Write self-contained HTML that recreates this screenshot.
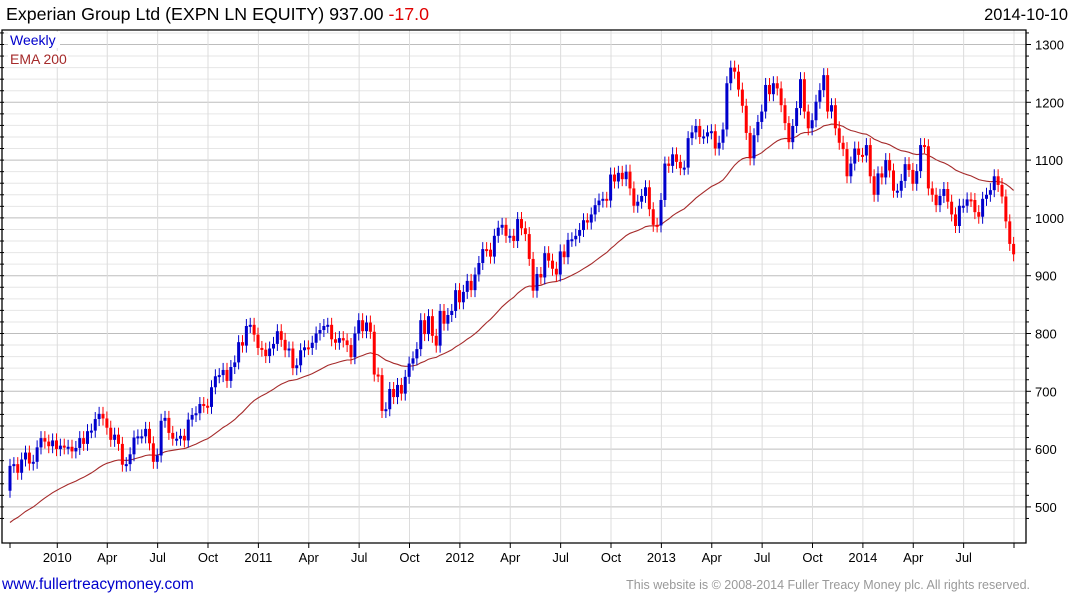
<!DOCTYPE html>
<html><head><meta charset="utf-8"><style>
html,body{margin:0;padding:0;background:#fff;width:1075px;height:600px;overflow:hidden;font-family:"Liberation Sans",Arial,sans-serif}
svg{display:block}
</style></head><body>
<svg id="chart" width="1075" height="600" xmlns="http://www.w3.org/2000/svg">
<text x="6" y="20" font-size="17.8" fill="#000">Experian Group Ltd (EXPN LN EQUITY) 937.00 <tspan fill="#e00000">-17.0</tspan></text>
<text x="1068" y="20" font-size="16.4" text-anchor="end" fill="#000">2014-10-10</text>
<g id="grid"></g>
<g id="axes"></g>
<g id="ema"></g>
<g id="candles"></g>
<rect x="8" y="32" width="52" height="16" fill="#fff"/>
<text x="10" y="45" font-size="14" fill="#0000cc">Weekly</text>
<rect x="8" y="51" width="60" height="16" fill="#fff"/>
<text x="10" y="64" font-size="14" fill="#a52a2a">EMA 200</text>
<text x="2" y="589" font-size="15.5" fill="#0000cc">www.fullertreacymoney.com</text>
<text x="1030" y="589" font-size="12.5" fill="#999" text-anchor="end">This website is © 2008-2014 Fuller Treacy Money plc. All rights reserved.</text>
</svg>
<script>
const closes = [571,574,559,582,594,575,578,603,619,613,605,615,600,606,603,604,596,602,619,609,631,632,652,661,653,637,616,625,609,573,574,591,620,622,622,635,610,578,589,649,654,628,618,618,623,615,651,659,662,678,675,673,707,726,728,737,718,742,750,785,779,813,815,798,775,772,761,774,782,804,789,771,774,740,745,771,776,775,784,800,806,813,815,790,784,792,788,780,759,800,823,804,819,803,729,728,666,669,704,690,711,696,725,748,757,773,823,799,830,796,779,839,817,832,839,875,854,872,891,875,902,922,946,945,933,969,983,988,969,969,960,998,982,972,929,874,903,897,939,926,912,902,942,932,962,963,969,979,996,992,1006,1022,1030,1033,1030,1075,1063,1078,1067,1080,1051,1021,1028,1038,1053,1015,988,987,1031,1094,1090,1110,1097,1086,1087,1138,1148,1159,1140,1141,1148,1150,1120,1130,1153,1233,1260,1253,1222,1194,1147,1103,1143,1166,1184,1230,1214,1233,1224,1195,1164,1131,1159,1190,1240,1184,1155,1169,1201,1221,1247,1184,1195,1155,1130,1119,1072,1094,1120,1109,1108,1126,1072,1040,1077,1070,1100,1082,1047,1047,1064,1093,1083,1059,1081,1126,1124,1051,1040,1022,1038,1050,1028,1006,986,1021,1021,1032,1031,1010,1002,1033,1040,1048,1072,1057,1037,994,955,937];
const firstOpen = 528;
const emaSeed = 468;
const yTicks = [500,600,700,800,900,1000,1100,1200,1300];
const xTickLabels = ["","2010","Apr","Jul","Oct","2011","Apr","Jul","Oct","2012","Apr","Jul","Oct","2013","Apr","Jul","Oct","2014","Apr","Jul",""];
const xTickWeeks = [0,12.2,25.1,38.1,51.1,64.1,77.1,90.1,103.1,116.1,129.1,142.1,155.1,168.1,181.1,194.1,207.1,220.1,233.1,246.1,259.1];

const NS="http://www.w3.org/2000/svg";
const L=2, R=1026, T=30, B=543;
const yS = v => 44.5 + (1300 - v) * 0.578;
const xS = i => 10 + i * 3.875;
function mk(tag, attrs, parent){const e=document.createElementNS(NS,tag);for(const k in attrs)e.setAttribute(k,attrs[k]);parent.appendChild(e);return e;}
const grid=document.getElementById('grid'), axes=document.getElementById('axes');

for(let v=480; v<=1320; v+=20){
  const y=yS(v); if(y<T||y>B) continue;
  const major = v%100===0;
  const ln=mk('line',{x1:L,x2:R,y1:y,y2:y,stroke:major?'#bdbdbd':'#e6e6e6','stroke-width':1},grid);
  
  
  const tk=mk('line',{x1:R,x2:R+(major?5:3),y1:y,y2:y,stroke:'#000'},axes);
  
  
  const lt=mk('line',{x1:L-2,x2:L+2,y1:y,y2:y,stroke:'#000'},axes);
  
  
}
yTicks.forEach(v=>{
  const t=mk('text',{x:R+9,y:yS(v)+5,'font-size':13,fill:'#000'},axes);
  t.textContent=v;
  
  
});
xTickWeeks.forEach((w,k)=>{
  const x=xS(w);
  if(k>0){
    const g=mk('line',{x1:x,x2:x,y1:T,y2:B,stroke:'#dcdcdc'},grid);
    
    
  }
  const tk=mk('line',{x1:x,x2:x,y1:B,y2:B+5,stroke:'#000'},axes);
  
  
  if(xTickLabels[k]){
    const t=mk('text',{x:x,y:B+19,'font-size':13,'text-anchor':'middle',fill:'#000'},axes);
    t.textContent=xTickLabels[k];
    
    
  }
});
const frame=mk('path',{d:`M${L},${T} H${R} V${B} H${L} Z`,fill:'none',stroke:'#000','stroke-width':1.3},axes);



const a=2/41; let e=emaSeed; const pts=[];
closes.forEach((c,i)=>{ e = e + a*(c-e); pts.push(xS(i).toFixed(1)+','+yS(e).toFixed(1)); });
const emaL=mk('polyline',{points:pts.join(' '),fill:'none',stroke:'#a52a2a','stroke-width':1.1},document.getElementById('ema'));



const cg=document.getElementById('candles');
closes.forEach((c,i)=>{
  const o = i===0 ? firstOpen : closes[i-1];
  const up = c>=o;
  const col = up ? '#0000cc' : '#ff0000';
  const x=xS(i);
  const hi=Math.max(o,c), lo=Math.min(o,c);
  const w=mk('line',{x1:x,x2:x,y1:yS(hi)-7,y2:yS(lo)+7,stroke:col,'stroke-width':1},cg);
  
  
  const h=Math.max(2, yS(lo)-yS(hi));
  const b=mk('rect',{x:x-1.5,y:yS(hi),width:3,height:h,fill:col},cg);
  
  
});
</script>
</body></html>
